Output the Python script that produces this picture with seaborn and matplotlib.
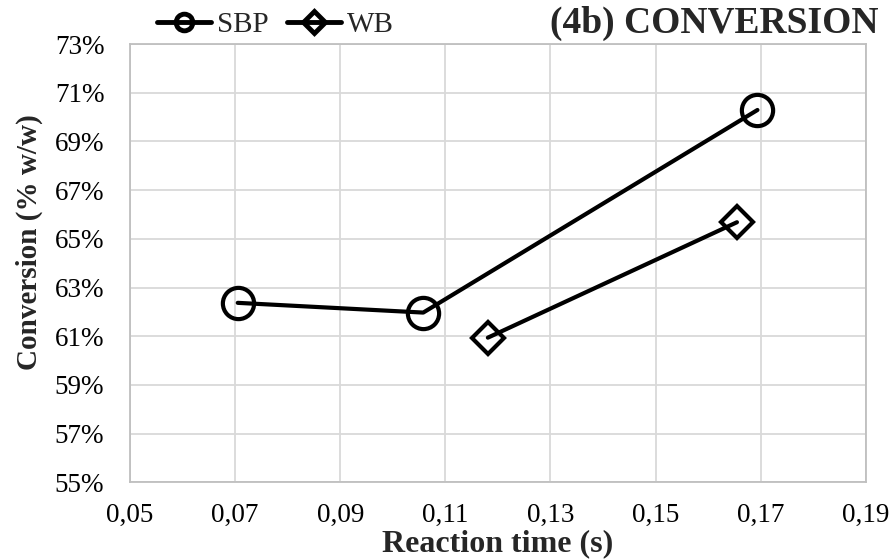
import matplotlib
matplotlib.use("Agg")
import matplotlib.pyplot as plt
import seaborn as sns
import pandas as pd
from matplotlib.lines import Line2D
from matplotlib.ticker import FuncFormatter

sbp_time = [0.0705, 0.1058, 0.1694]
sbp_conv = [62.37, 61.97, 70.29]
wb_time = [0.1181, 0.1655]
wb_conv = [60.94, 65.68]

x_ticks = [0.05, 0.07, 0.09, 0.11, 0.13, 0.15, 0.17, 0.19]
y_ticks = [55, 57, 59, 61, 63, 65, 67, 69, 71, 73]

sns.set_theme(style="white")
plt.rcParams['font.family'] = ['Liberation Serif', 'DejaVu Serif']

fig = plt.figure(figsize=(8.94, 5.6), dpi=100)
ax = fig.add_axes([130/894, 1-482.3/560, (865.7-130)/894, (482.3-44)/560])

df_sbp = pd.DataFrame({"t": sbp_time, "c": sbp_conv})
df_wb = pd.DataFrame({"t": wb_time, "c": wb_conv})

sns.lineplot(data=df_sbp, x="t", y="c", ax=ax, color="black", lw=3,
             marker="o", markersize=22.5, fillstyle="none", markeredgewidth=3,
             markeredgecolor="black", sort=False)
sns.lineplot(data=df_wb, x="t", y="c", ax=ax, color="black", lw=3,
             marker="D", markersize=16, fillstyle="none", markeredgewidth=3,
             markeredgecolor="black", sort=False)

ax.set_xlim(0.05, 0.19)
ax.set_ylim(55, 73)
ax.set_xticks(x_ticks)
ax.set_yticks(y_ticks)
ax.xaxis.set_major_formatter(FuncFormatter(lambda v, p: f"{v:.2f}".replace(".", ",")))
ax.yaxis.set_major_formatter(FuncFormatter(lambda v, p: f"{v:.0f}%"))
ax.tick_params(axis="both", length=0, labelsize=19.5, colors="black")
ax.tick_params(axis="x", pad=15)
ax.tick_params(axis="y", pad=18.5)
ax.grid(True, color="#d9d9d9", lw=1.3)
for s in ax.spines.values():
    s.set_color("#bfbfbf")
    s.set_linewidth(1.3)
    s.set_visible(True)
ax.set_xlabel("")
ax.set_ylabel("")

fig.text(498/894, 1-544/560, "Reaction time (s)", ha="center", va="center",
         fontsize=23, fontweight="bold")
fig.text(29/894, 1-242/560, "Conversion (% w/w)", ha="center", va="center",
         rotation=90, fontsize=21, fontweight="bold")
fig.text(878/894, 1-23/560, "(4b) CONVERSION", ha="right", va="center",
         fontsize=27, fontweight="bold")

handles = [
    Line2D([], [], color="black", lw=3.5, marker="o", markersize=12,
           fillstyle="none", markeredgewidth=3.5),
    Line2D([], [], color="black", lw=3.5, marker="D", markersize=11,
           fillstyle="none", markeredgewidth=3.5),
]
fig.legend(handles, ["SBP", "WB"], loc="center left",
           bbox_to_anchor=(157/894, 1-25/560), ncol=2, frameon=False,
           fontsize=21, handlelength=1.85, handletextpad=0.2,
           columnspacing=0.65, borderaxespad=0, borderpad=0)

fig.savefig("out.png", dpi=100)
